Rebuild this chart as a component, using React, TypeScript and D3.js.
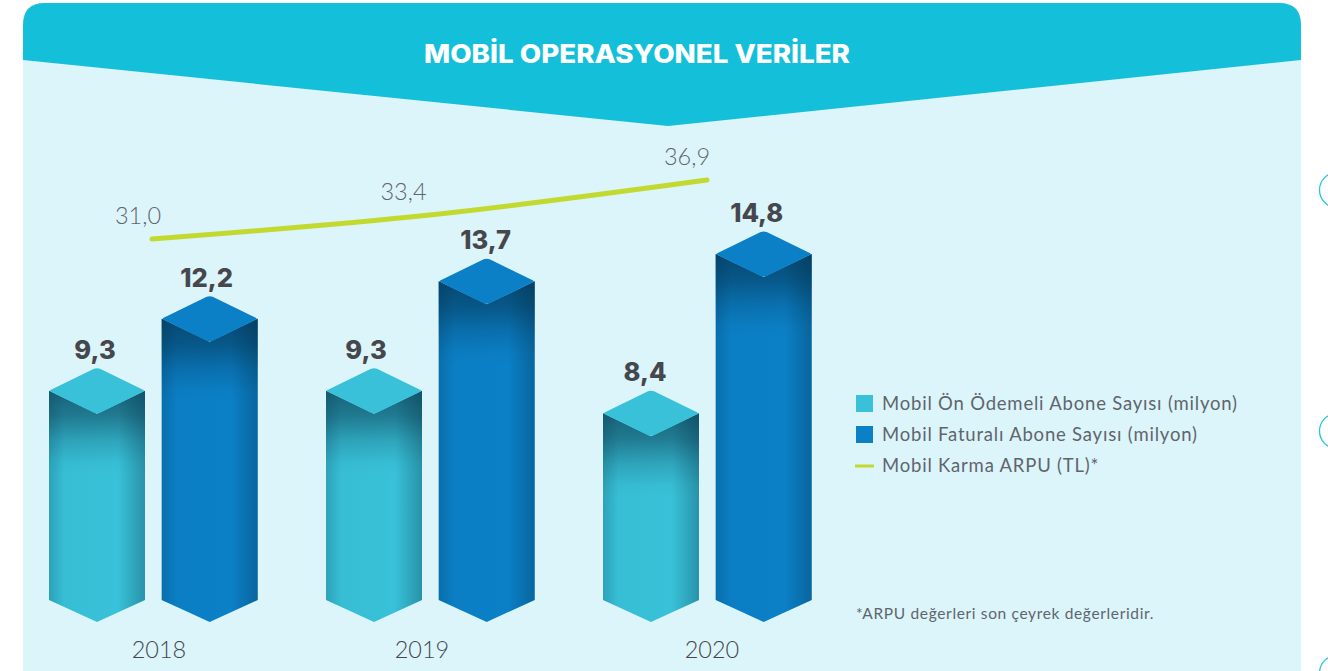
import React from "react";
import * as d3 from "d3";

const years = ["2018", "2019", "2020"];
const prepaid = [9.3, 9.3, 8.4];
const postpaid = [12.2, 13.7, 14.8];
const arpu = [31.0, 33.4, 36.9];
const legendLabels = [
  "Mobil Ön Ödemeli Abone Sayısı (milyon)",
  "Mobil Faturalı Abone Sayısı (milyon)",
  "Mobil Karma ARPU (TL)*",
];
const title = "MOBİL OPERASYONEL VERİLER";
const footnote = "*ARPU değerleri son çeyrek değerleridir.";

const W = 1328, H = 671;
const TEAL = "#38c1d8", BLUE = "#0b80c7", INK = "#45474d", SOFT = "#5f656d";
const FONT = "Lato, 'Open Sans', sans-serif";
const HEAD = "Inter, 'Open Sans', sans-serif";
const fmt = (v: number) => v.toFixed(1).replace(".", ",");

const xYear = d3.scaleBand<string>().domain(years).range([49, 880]);
const yVal = d3.scaleLinear().domain([0, 14.8]).range([622, 254]);
const yArpu = d3.scaleLinear().domain([31, 36.9]).range([239, 180]);
const xLine = d3.scalePoint<string>().domain(years).range([152, 707]);
const BW = 96, HALF = BW / 2, DROP = 23, BASE_RIM = 600;
const INNER = [0, 112.7];
const LABEL_NUDGE = [[-2, -3], [-8, -1], [-6, -7]];
const YEAR_X = [159, 422, 712];
const ARPU_NUDGE = [-14, -28, -20];

function Bar({ x, v, color, i, dx }: any) {
  const mid = yVal(v);
  const side = `M${x},${mid}L${x + HALF},${mid + DROP}L${x + BW},${mid}L${x + BW},${BASE_RIM}L${x + HALF},${BASE_RIM + 22}L${x},${BASE_RIM}Z`;
  const top = `M${x + 2},${mid - 1}L${x + HALF - 3},${mid - DROP + 1}Q${x + HALF},${mid - DROP} ${x + HALF + 3},${mid - DROP + 1}L${x + BW - 2},${mid - 1}Q${x + BW},${mid} ${x + BW - 2},${mid + 1}L${x + HALF + 3},${mid + DROP - 1}Q${x + HALF},${mid + DROP} ${x + HALF - 3},${mid + DROP - 1}L${x + 2},${mid + 1}Q${x},${mid} ${x + 2},${mid - 1}Z`;
  const gid = `shade-${i}-${dx}`;
  return (
    <g>
      <defs>
        <linearGradient id={gid} gradientUnits="userSpaceOnUse" x1={0} x2={0} y1={mid} y2={mid + 84}>
          <stop offset="0" stopColor="#03263c" stopOpacity={0.6} />
          <stop offset="0.3" stopColor="#03263c" stopOpacity={0.45} />
          <stop offset="0.6" stopColor="#03263c" stopOpacity={0.18} />
          <stop offset="0.85" stopColor="#03263c" stopOpacity={0.03} />
          <stop offset="1" stopColor="#03263c" stopOpacity={0} />
        </linearGradient>
      </defs>
      <path d={side} fill={color} />
      <path d={side} fill="url(#edgeShade)" />
      <path d={side} fill={`url(#${gid})`} />
      <path d={top} fill={color} />
      <text x={x + HALF + LABEL_NUDGE[i][dx]} y={mid - DROP - 9} textAnchor="middle"
        fontFamily={HEAD} fontWeight={800} fontSize={25.5} fill={INK}>{fmt(v)}</text>
    </g>
  );
}

export default function App() {
  const line = d3.line<number>()
    .x((_, i) => xLine(years[i]) as number)
    .y((d) => yArpu(d))
    .curve(d3.curveMonotoneX);
  return (
    <svg width={W} height={H} viewBox={`0 0 ${W} ${H}`}
      style={{ position: "absolute", left: 0, top: 0, display: "block", background: "#fff" }}>
      <defs>
        <linearGradient id="edgeShade" x1="0" x2="1" y1="0" y2="0">
          <stop offset="0" stopColor="#03263c" stopOpacity={0.2} />
          <stop offset="0.16" stopColor="#03263c" stopOpacity={0.02} />
          <stop offset="0.72" stopColor="#03263c" stopOpacity={0} />
          <stop offset="1" stopColor="#03263c" stopOpacity={0.3} />
        </linearGradient>
      </defs>
      <path d={`M23,${H}L23,25Q23,3 45,3L1279,3Q1301,3 1301,25L1301,${H}Z`} fill="#dcf5fa" />
      <path d="M23,60L23,25Q23,3 45,3L1279,3Q1301,3 1301,25L1301,60L668,126Z" fill="#14bfda" />
      <text x={637} y={63} textAnchor="middle" fontFamily={HEAD} fontWeight={800} fontSize={25.5}
        fill="#fff" textLength={426} lengthAdjust="spacingAndGlyphs">{title}</text>

      {years.map((y, i) => (
        <g key={y}>
          <Bar x={xYear(y) as number} v={prepaid[i]} color={TEAL} i={i} dx={0} />
          <Bar x={(xYear(y) as number) + INNER[1]} v={postpaid[i]} color={BLUE} i={i} dx={1} />
          <text x={YEAR_X[i]} y={658} textAnchor="middle" fontFamily={FONT} fontWeight={300} fontSize={23.5} fill={INK}>{y}</text>
        </g>
      ))}

      <path d={line(arpu) as string} fill="none" stroke="#c2d92f" strokeWidth={5} strokeLinecap="round" />
      {arpu.map((v, i) => (
        <text key={i} x={(xLine(years[i]) as number) + ARPU_NUDGE[i] + (i === 1 ? 2 : 0)} y={yArpu(v) - 15} textAnchor="middle"
          fontFamily={FONT} fontWeight={300} fontSize={23.5} fill={SOFT}>{fmt(v)}</text>
      ))}

      {[TEAL, BLUE].map((c, i) => (
        <rect key={c} x={856} y={395 + i * 31} width={17} height={17} fill={c} />
      ))}
      <line x1={855} x2={874} y1={466} y2={466} stroke="#c2d92f" strokeWidth={3} />
      {legendLabels.map((t, i) => (
        <text key={t} x={882} y={410 + i * 31} fontFamily={FONT} fontWeight={400} fontSize={18.5} letterSpacing={0.8} fill={SOFT}>{t}</text>
      ))}
      <text x={856} y={619} fontFamily={FONT} fontSize={15.5} letterSpacing={0.65} fill={SOFT}>{footnote}</text>

      {[190, 431, 673].map((cy) => (
        <circle key={cy} cx={1337} cy={cy} r={17.5} fill="none" stroke="#27c3de" strokeWidth={1.3} />
      ))}
    </svg>
  );
}
